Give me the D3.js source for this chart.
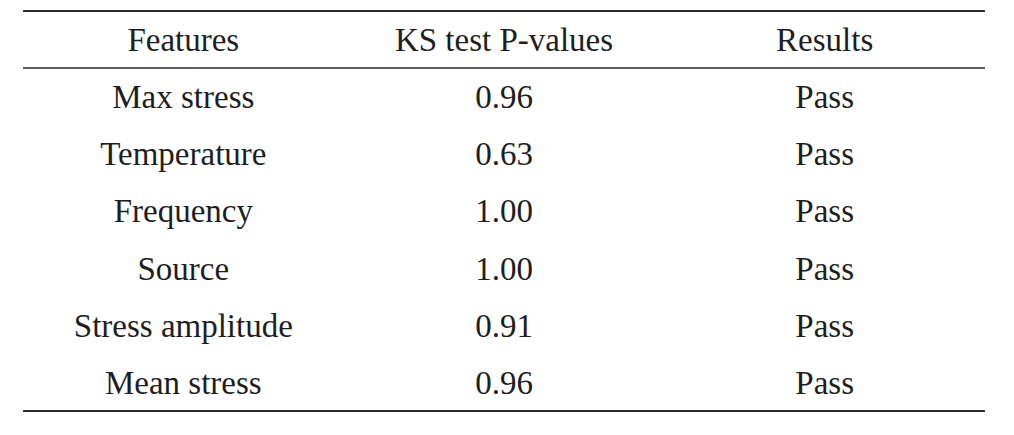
<!DOCTYPE html>
<html>
<head>
<meta charset="utf-8">
<script src="https://cdn.jsdelivr.net/npm/d3@7"></script>
<style>
  html, body { margin: 0; padding: 0; background: #fff; }
  svg text { font-family: "Liberation Serif", "Times New Roman", serif; fill: #1e1e1e; }
</style>
</head>
<body>
<div id="chart"></div>
<script>
// Table contents
const headers = ['Features', 'KS test P-values', 'Results'];
const features = ['Max stress', 'Temperature', 'Frequency', 'Source', 'Stress amplitude', 'Mean stress'];
const pValues = [0.96, 0.63, 1.00, 1.00, 0.91, 0.96];
const results = ['Pass', 'Pass', 'Pass', 'Pass', 'Pass', 'Pass'];

const width = 1014, height = 435;
const left = 23, right = 985;
const topY = 11, headY = 68, bottomY = 411;

const svg = d3.select('#chart')
    .append('svg')
    .attr('width', width)
    .attr('height', height);

// Columns
const x = d3.scaleBand()
    .domain(headers)
    .range([left, right]);

// Rows
const y = d3.scaleBand()
    .domain(features)
    .range([headY, bottomY]);

const fontSize = 33;
const rows = features.map((f, i) => [f, d3.format('.2f')(pValues[i]), results[i]]);

// Header
svg.selectAll('text.head')
    .data(headers)
    .join('text')
    .attr('class', 'head')
    .attr('x', d => x(d) + x.bandwidth() / 2)
    .attr('y', (topY + headY) / 2)
    .attr('dy', '0.35em')
    .attr('text-anchor', 'middle')
    .style('font-size', fontSize + 'px')
    .text(d => d);

// Body cells
const rowG = svg.selectAll('g.row')
    .data(rows)
    .join('g')
    .attr('class', 'row')
    .attr('transform', d => `translate(0,${y(d[0]) + y.bandwidth() / 2})`);

rowG.selectAll('text')
    .data(d => d.map((v, j) => ({ col: headers[j], v })))
    .join('text')
    .attr('x', d => x(d.col) + x.bandwidth() / 2)
    .attr('dy', '0.35em')
    .attr('text-anchor', 'middle')
    .style('font-size', fontSize + 'px')
    .text(d => d.v);

// Rules
const rules = [
    { y: topY, w: 2 },
    { y: headY, w: 1.5 },
    { y: bottomY, w: 2.2 }
];
svg.selectAll('line.rule')
    .data(rules)
    .join('line')
    .attr('class', 'rule')
    .attr('x1', left)
    .attr('x2', right)
    .attr('y1', d => d.y)
    .attr('y2', d => d.y)
    .style('stroke', '#2a2a2a')
    .style('stroke-width', d => d.w);
</script>
</body>
</html>
